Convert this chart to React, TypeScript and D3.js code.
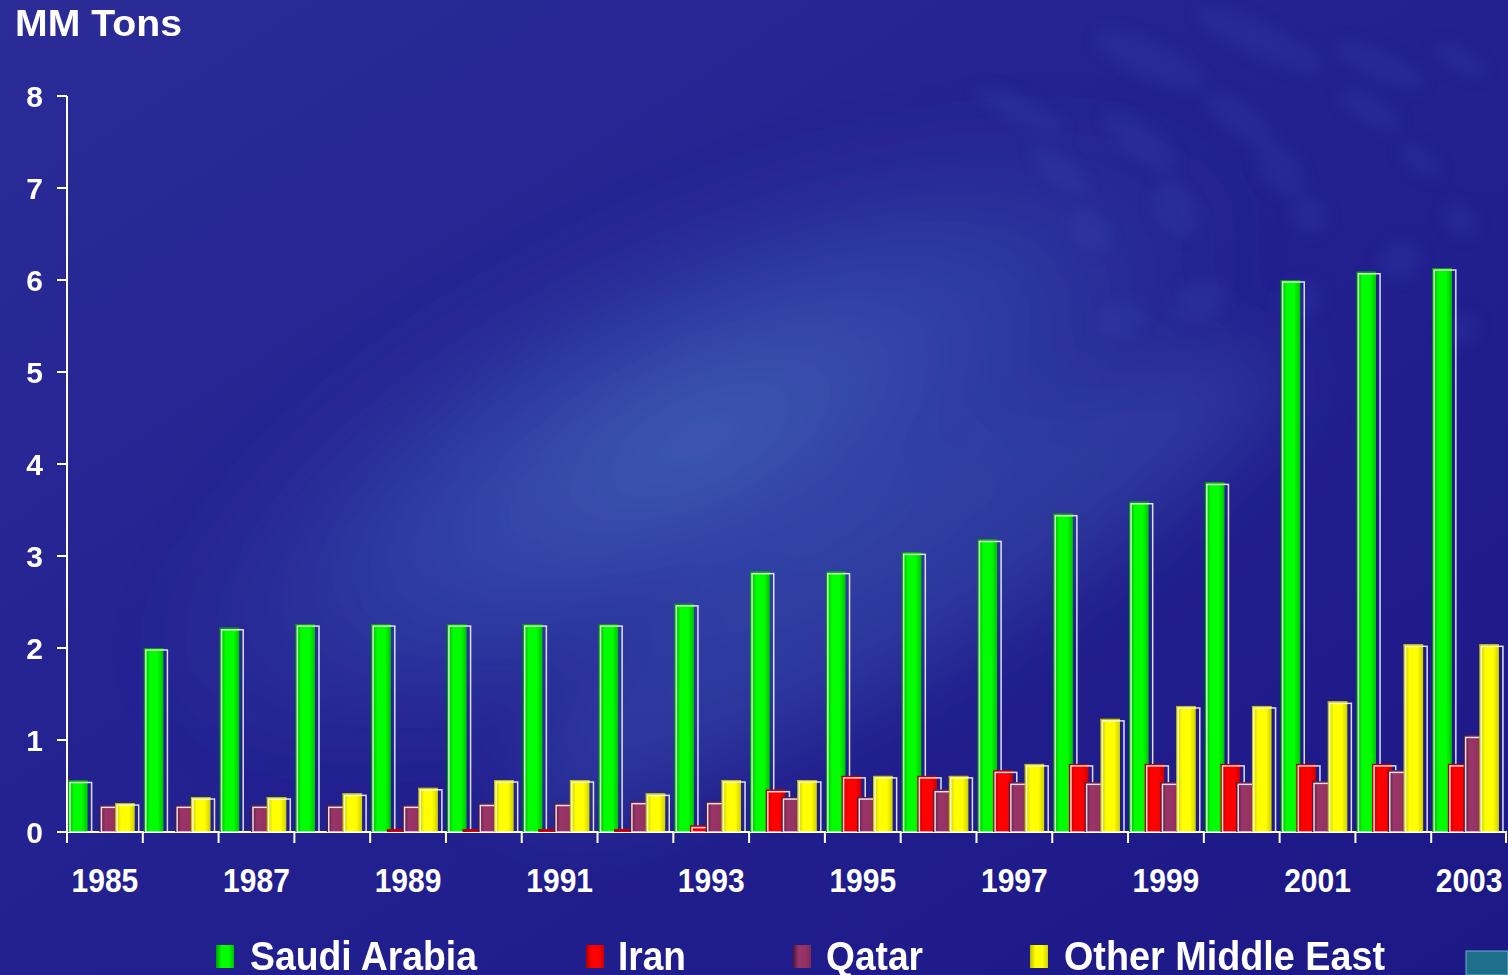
import React from "react";
import * as d3 from "d3";

const years = [1985,1986,1987,1988,1989,1990,1991,1992,1993,1994,1995,1996,1997,1998,1999,2000,2001,2002,2003];
const saudi = [0.56,2.0,2.22,2.26,2.26,2.26,2.26,2.26,2.48,2.83,2.83,3.04,3.18,3.46,3.59,3.8,6.0,6.09,6.13];
const iran = [0,0,0,0,0.03,0.03,0.03,0.03,0.07,0.46,0.61,0.61,0.67,0.74,0.74,0.74,0.74,0.74,0.74];
const qatar = [0.29,0.29,0.29,0.29,0.29,0.31,0.31,0.33,0.33,0.38,0.38,0.46,0.54,0.54,0.54,0.54,0.55,0.67,1.05];
const other = [0.315,0.38,0.38,0.42,0.48,0.565,0.565,0.42,0.565,0.565,0.61,0.61,0.74,1.23,1.37,1.37,1.42,2.04,2.04];
const seriesNames = ["Saudi Arabia","Iran","Qatar","Other Middle East"];
const yTicks = [0,1,2,3,4,5,6,7,8];
const xLabelYears = [1985,1987,1989,1991,1993,1995,1997,1999,2001,2003];

const W = 1508, H = 975;
const colors = [
  { id: "g0", stops: ["#009a00", "#00ff00", "#00ff00", "#00c400"], top: "#00a000" },
  { id: "g1", stops: ["#a80000", "#ff0000", "#ff0000", "#cc0000"], top: "#b00000" },
  { id: "g2", stops: ["#4a1634", "#9a3568", "#953264", "#7a2a55"], top: "#5a1e40" },
  { id: "g3", stops: ["#bcbc00", "#ffff00", "#ffff00", "#d0d000"], top: "#c0c000" },
];

export default function App() {
  const data = [saudi, iran, qatar, other];
  const x = d3.scaleBand<number>().domain(years).range([67, 1507]).padding(0);
  const sub = d3.scaleBand<number>().domain([0, 1, 2, 3]).range([1, 1 + 4 * 15.7]).padding(0);
  const bw = sub.bandwidth() * 1.25;
  const y = d3.scaleLinear().domain([0, 8]).range([832, 96]);
  const font = "'Liberation Sans', Arial, sans-serif";

  const blobs = [
    [1150, 60, 60, 18, 25], [1260, 40, 70, 16, 25], [1380, 65, 50, 14, 25], [1140, 140, 45, 15, 35],
    [1240, 120, 40, 16, 35], [1370, 110, 35, 14, 30], [1280, 170, 30, 20, 50], [1175, 210, 30, 20, 60],
    [1310, 215, 20, 18, 60], [1460, 60, 30, 12, 30], [1060, 170, 35, 14, 40], [1090, 230, 25, 18, 55],
    [1020, 110, 50, 12, 25], [1420, 160, 25, 12, 40], [1460, 220, 20, 14, 50], [1200, 300, 20, 28, 70],
    [1300, 300, 18, 24, 70], [1400, 260, 20, 22, 60], [1120, 320, 18, 26, 70], [1460, 330, 15, 20, 60],
  ];

  return (
    <svg width={W} height={H} style={{ position: "absolute", left: 0, top: 0, display: "block" }}>
      <defs>
        <linearGradient id="bgbase" x1="0" y1="0" x2="1" y2="1">
          <stop offset="0" stopColor="#2b2c98" />
          <stop offset="0.5" stopColor="#232090" />
          <stop offset="1" stopColor="#1c1886" />
        </linearGradient>
        <radialGradient id="glow" cx="0.5" cy="0.5" r="0.5">
          <stop offset="0" stopColor="#4466ba" stopOpacity="0.9" />
          <stop offset="0.55" stopColor="#3650b0" stopOpacity="0.55" />
          <stop offset="1" stopColor="#2a3aa0" stopOpacity="0" />
        </radialGradient>
        <filter id="blur" x="-50%" y="-50%" width="200%" height="200%">
          <feGaussianBlur stdDeviation="8" />
        </filter>
        <filter id="blur2" x="-50%" y="-50%" width="200%" height="200%">
          <feGaussianBlur stdDeviation="40" />
        </filter>
        {colors.map((c) => (
          <linearGradient key={c.id} id={c.id} x1="0" y1="0" x2="1" y2="0">
            <stop offset="0" stopColor={c.stops[0]} />
            <stop offset="0.3" stopColor={c.stops[1]} />
            <stop offset="0.7" stopColor={c.stops[2]} />
            <stop offset="1" stopColor={c.stops[3]} />
          </linearGradient>
        ))}
      </defs>
      <rect x={0} y={0} width={W} height={H} fill="url(#bgbase)" />
      <g filter="url(#blur2)">
        <ellipse cx={700} cy={440} rx={620} ry={230} fill="url(#glow)" transform="rotate(-25 700 440)" />
        <ellipse cx={900} cy={580} rx={440} ry={90} fill="#4a70c0" opacity={0.3} transform="rotate(-30 900 580)" />
      </g>
      <g filter="url(#blur)" opacity={0.22}>
        {blobs.map((b, i) => (
          <ellipse key={i} cx={b[0]} cy={b[1]} rx={b[2]} ry={b[3]} fill="#3a4cb8" transform={`rotate(${b[4]} ${b[0]} ${b[1]})`} />
        ))}
      </g>

      {/* title */}
      <text x={15} y={36} fill="#fff" fontFamily={font} fontWeight="bold" fontSize={36} textLength={167} lengthAdjust="spacingAndGlyphs">MM Tons</text>

      {/* axes */}
      <line x1={67} y1={96} x2={67} y2={843} stroke="#fff" strokeWidth={2} />
      <line x1={57} y1={832} x2={1507} y2={832} stroke="#fff" strokeWidth={2} />
      {yTicks.map((t) => (
        <g key={t}>
          <line x1={57} x2={67} y1={y(t)} y2={y(t)} stroke="#fff" strokeWidth={2} />
          <text x={43} y={y(t) + 11} textAnchor="end" fill="#fff" fontFamily={font} fontWeight="bold" fontSize={30}>{t}</text>
        </g>
      ))}
      {years.map((yr) => (
        <line key={yr} x1={(x(yr) as number)} x2={(x(yr) as number)} y1={832} y2={843} stroke="#fff" strokeWidth={2} />
      ))}
      <line x1={1506} x2={1506} y1={832} y2={843} stroke="#fff" strokeWidth={2} />
      {xLabelYears.map((yr) => (
        <text key={yr} x={(x(yr) as number) + x.bandwidth() / 2} y={892} textAnchor="middle" fill="#fff"
          fontFamily={font} fontWeight="bold" fontSize={30} transform={`translate(0 892) scale(1 1.08) translate(0 -892)`}>{yr}</text>
      ))}

      {/* bars */}
      {years.map((yr, i) => (
        <g key={yr}>
          {data.map((s, k) => {
            const v = s[i];
            if (v <= 0) return null;
            const bx = (x(yr) as number) + (sub(k) as number);
            const by = y(v);
            const h = y(0) - by;
            return (
              <g key={k}>
                <rect x={bx} y={by} width={bw} height={h} fill={`url(#${colors[k].id})`} />
                <rect x={bx} y={by} width={bw} height={Math.min(2, h)} fill={colors[k].top} />
                {h > 3 && (
                  <rect x={bx + 2} y={by + 2} width={bw + 2} height={Math.max(0, h - 2)} fill="none"
                    stroke="#fff" strokeOpacity={0.85} strokeWidth={1.5} />
                )}
              </g>
            );
          })}
        </g>
      ))}

      {/* legend */}
      {seriesNames.map((n, k) => {
        const sx = [216, 586, 793, 1030][k];
        const tx = [250, 618, 826, 1064][k];
        const tw = [227, 68, 97, 321][k];
        return (
          <g key={n}>
            <rect x={sx} y={945} width={18} height={23} fill={`url(#${colors[k].id})`} />
            <text x={tx} y={970} fill="#fff" fontFamily={font} fontWeight="bold" fontSize={37}
              textLength={tw} lengthAdjust="spacingAndGlyphs"
              transform={`translate(0 970) scale(1 1.08) translate(0 -970)`}>{n}</text>
          </g>
        );
      })}
      <rect x={1466} y={951} width={42} height={24} fill="#1d6f8a" stroke="#6ab0c8" strokeWidth={1} />
    </svg>
  );
}
